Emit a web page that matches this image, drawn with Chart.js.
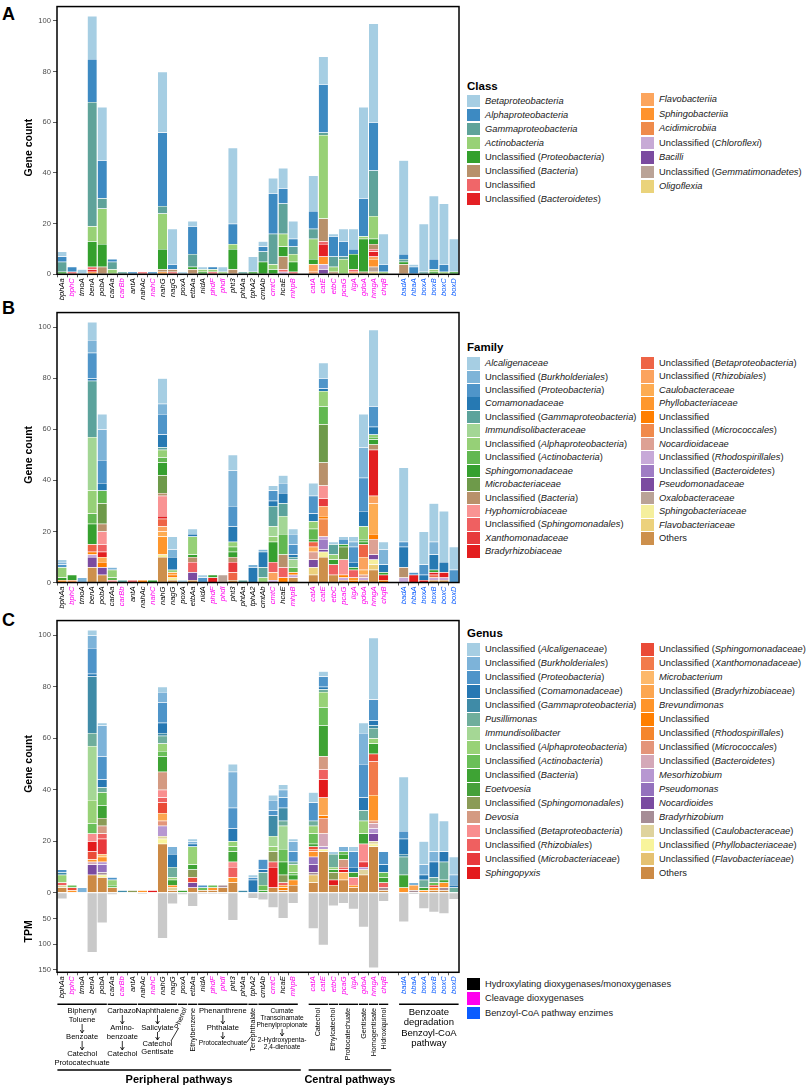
<!DOCTYPE html>
<html>
<head>
<meta charset="utf-8">
<title>Aromatic degradation genes by taxonomy</title>
<script src="https://cdn.jsdelivr.net/npm/chart.js@4.4.1/dist/chart.umd.min.js"></script>
<style>
  html, body { margin: 0; padding: 0; background: #fff; }
  body { width: 806px; height: 1086px; position: relative; overflow: hidden;
         font-family: "Liberation Sans", Arial, Helvetica, sans-serif; color: #1a1a1a; }
  .panel { position: absolute; left: 0; width: 466px; }
  .tag { position: absolute; left: 2px; font-weight: bold; font-size: 18px; line-height: 18px; color: #000; }
  .lg-title { position: absolute; left: 467px; font-weight: bold; font-size: 11.5px; line-height: 12px; color: #000; }
  .lg-item { position: absolute; height: 13px; line-height: 13px; font-size: 9.3px; white-space: nowrap; }
  .lg-item .sw { position: absolute; left: 0; top: 0; width: 12.5px; height: 12.5px; }
  .lg-item .tx { position: absolute; left: 18px; top: 0; }
</style>
</head>
<body>
<div class="tag" style="top:4.5px">A</div>
<div class="tag" style="top:298.5px">B</div>
<div class="tag" style="top:611px">C</div>
<div class="panel" style="top:0;height:306px"><canvas id="chartA"></canvas></div>
<div class="panel" style="top:306px;height:308px"><canvas id="chartB"></canvas></div>
<div class="panel" style="top:614px;height:472px"><canvas id="chartC"></canvas></div>
<div id="legends"></div>

<script>
// ---- data ----
const genes = ['bphAa','bphC','tmoA','benA','pobA','carAa','carBb','antA','nahAc','nahC',
  'nahG','nagG','poxA','etbAa','nidA','phdF','phdI','pht3','phtAa','tphA2',
  'cmtAb','cmtC','hcaE','mhpB','catA','catE','etbC','pcaG','ligA','gdoA',
  'hmgA','chqB','badA','hbaA','boxA','boxB','boxC','boxD'];
// H = hydroxylating, C = cleavage, B = benzoyl-CoA
const geneType = ['H','C','H','H','H','H','C','H','H','C',
  'H','H','H','H','H','C','C','H','H','H',
  'H','C','H','C','C','C','C','C','C','C',
  'C','C','B','B','B','B','B','B'];
const geneTypeNames = ['Hydroxylating dioxygenases/monoxygenases', 'Cleavage dioxygenases', 'Benzoyl-CoA pathway enzimes'];
const geneTypeColors = ['#000000', '#ff00ee', '#0a5cff'];

// TPM per gene (drawn downward in panel C)
const tpm = [11,1,1,115,58,3,1,1,2,1, 88,21,3,26,2,2,2,53,1,10, 13,28,49,20,69,101,25,20,31,66, 145,16,56,2.5,30,37,40,12];

// panel A: class
const classNames = ['Betaproteobacteria','Alphaproteobacteria','Gammaproteobacteria','Actinobacteria',
  'Unclassified (Proteobacteria)','Unclassified (Bacteria)','Unclassified','Unclassified (Bacteroidetes)',
  'Flavobacteriia','Sphingobacteriia','Acidimicrobiia','Unclassified (Chloroflexi)','Bacilli',
  'Unclassified (Gemmatimonadetes)','Oligoflexia'];
const classColors = ['#a6cee3','#3d8ac2','#5fa39a','#98d176','#34a02d','#b8916b','#f06669','#e42024',
  '#fca55d','#fe932d','#ef8b4b','#c7aad6','#7b4ba0','#baa397','#ead37b'];
const clsBeta      = [2,0,2,17,21,0,0,0,0,0, 24,14,1,2,1,0,2,30,0,6, 2,6,8,7,14,11,1,5,8,36, 39,12,37,1,19,25,24,13];
const clsAlpha     = [2,2,0,17,15,1,0,1,0,1, 29,2,0,11,0,1,0,8,0,0, 2,16,6,3,7,19,8,6,2,15, 19,3,2,3,0,4,3,0];
const clsGamma     = [4,0,0,49,4,3,1,0,0,0, 3,0,0,5,0,0,0,0,1,0, 4,12,12,3,4,1,4,1,0,0, 18,0,1,0,1,0,0,0];
const clsActino    = [0,0,0,6,14,2,0,0,0,0, 14,0,0,0,1,1,1,2,0,0, 0,2,5,3,8,33,2,6,0,1, 9,1,0,0,0,1,1,0];
const clsUProteo   = [1,0,0,10,9,0,0,0,0,0, 8,0,0,1,1,0,0,8,0,1, 5,2,4,4,2,0,0,0,6,13, 2,0,1,0,0,1,0,1];
const clsUBacteria = [0,0,0,0,3,0,0,0,0,0, 1,1,0,2,0,0,0,2,0,0, 0,0,5,0,0,9,1,0,0,1, 2,0,4,0,0,0,0,0];
const clsUncl      = [0,1,0,1,0,0,0,0,1,0, 0,1,0,0,0,1,0,0,0,0, 0,0,1,1,0,1,0,0,1,0, 1,0,0,0,0,0,0,0];
const clsUBacteroid= [0,0,0,1,0,0,0,0,0,0, 0,0,0,0,0,0,0,0,0,0, 0,0,0,0,0,5,0,0,0,0, 2,0,0,0,0,0,0,0];
const clsFlavo     = [0,0,0,0,0,0,0,0,0,0, 0,0,0,0,0,0,0,0,0,0, 0,0,0,0,3,0,0,0,1,0, 1,0,0,0,0,0,0,0];
const clsSphingo   = [0,0,0,1,0,0,0,0,0,0, 1,0,0,0,0,0,0,0,0,0, 0,0,0,0,0,3,0,0,0,0, 3,0,0,0,0,0,0,0];
const clsAcidi     = [0,0,0,0,0,0,0,0,0,0, 0,0,0,0,0,0,0,0,0,0, 0,0,0,0,1,0,0,0,0,0, 0,0,0,0,0,0,0,0];
const clsChloro    = [0,0,0,0,0,0,0,0,0,0, 0,0,0,0,0,0,0,0,0,0, 0,0,1,0,0,2,0,0,0,0, 0,0,0,0,0,0,0,0];
const clsBacilli   = [0,0,0,0,0,0,0,0,0,0, 0,0,0,0,0,0,0,0,0,0, 0,0,0,0,0,2,0,0,0,0, 0,0,0,0,0,0,0,0];
const clsGemma     = [0,0,0,0,0,0,0,0,0,0, 0,0,0,0,0,0,0,0,0,0, 0,0,0,0,0,0,0,0,0,0, 2,0,0,0,0,0,0,0];
const clsOligo     = [0,0,0,0,0,0,0,0,0,0, 0,0,0,0,0,0,0,0,0,0, 0,0,0,0,0,0,0,0,0,0, 1,0,0,0,0,0,0,0];

// panel B: family
const familyNames = ['Alcaligenaceae','Unclassified (Burkholderiales)','Unclassified (Proteobacteria)','Comamonadaceae',
  'Unclassified (Gammaproteobacteria)','Immundisolibacteraceae','Unclassified (Alphaproteobacteria)','Unclassified (Actinobacteria)',
  'Sphingomonadaceae','Microbacteriaceae','Unclassified (Bacteria)','Hyphomicrobiaceae','Unclassified (Sphingomonadales)',
  'Xanthomonadaceae','Bradyrhizobiaceae',
  'Unclassified (Betaproteobacteria)','Unclassified (Rhizobiales)','Caulobacteraceae','Phyllobacteriaceae','Unclassified',
  'Unclassified (Micrococcales)','Nocardioidaceae','Unclassified (Rhodospirillales)','Unclassified (Bacteroidetes)',
  'Pseudomonadaceae','Oxalobacteraceae','Sphingobacteriaceae','Flavobacteriaceae','Others'];
const familyColors = ['#a6cee3','#7eb4d8','#4f95c9','#2679b3','#5ca39c','#a3d695','#96d077','#62b851','#36a02f',
  '#6e9a4a','#b8916b','#f99393','#ef6061','#e73a3c','#e31e1f',
  '#ee6446','#fba35e','#fdac52','#fe972d','#ff7f00','#f08a4c','#dda194','#c7a9d8','#9f7cc4','#7b4ba0',
  '#baa397','#f5ef9d','#ecd17c','#cd904c'];
const famAlcaligenaceae = [1,0,0,7,6,0,0,0,0,0, 10,5,1,2,1,0,0,6,0,0, 0,2,3,2,5,6,1,1,2,13, 30,3,29,0,13,15,20,9];
const famUBurkholderiales = [1,0,2,5,12,1,0,0,0,0, 4,3,0,0,0,0,0,14,0,1, 1,0,4,4,0,0,0,0,2,12, 0,6,0,0,0,5,0,0];
const famUProteobacteria = [1,0,0,10,9,0,0,0,0,0, 8,0,0,0,2,0,0,8,0,0, 0,4,0,4,7,4,0,2,6,13, 8,0,2,1,4,0,0,5];
const famComamonadaceae = [0,0,0,1,3,0,0,0,0,0, 5,5,0,1,0,0,0,6,0,6, 6,2,4,1,3,1,0,0,2,6, 3,3,8,0,2,6,4,0];
const famUGammaproteobacteria = [0,0,0,22,0,0,1,0,0,0, 1,0,0,0,0,0,0,0,1,0, 4,8,5,1,0,0,4,0,0,0, 0,0,0,0,0,0,0,0];
const famImmundisolibacteraceae = [0,0,0,21,0,0,0,0,0,0, 0,0,0,0,0,0,0,0,0,0, 0,4,7,3,0,0,0,0,0,0, 0,0,0,0,0,0,0,0];
const famUAlphaproteobacteria = [4,0,0,9,0,3,0,0,0,0, 3,1,0,7,0,0,0,2,0,0, 2,2,0,0,3,6,2,0,0,5, 1,0,0,0,0,0,0,0];
const famUActinobacteria = [0,0,0,4,5,1,0,0,0,0, 2,0,0,0,0,0,0,2,0,0, 0,0,8,2,4,7,0,0,0,1, 1,0,0,0,0,0,0,0];
const famSphingomonadaceae = [1,2,0,8,0,0,0,0,0,1, 5,0,0,1,0,1,0,2,0,0, 0,8,0,0,1,0,2,1,1,1, 2,1,0,0,0,1,0,0];
const famMicrobacteriaceae = [0,0,0,0,8,0,0,0,0,0, 7,0,0,0,0,0,0,0,0,0, 0,0,0,0,0,15,0,5,0,0, 0,0,0,0,0,0,0,0];
const famUBacteria = [0,0,0,0,3,0,0,0,0,0, 1,0,0,2,0,0,0,2,0,0, 0,0,5,0,0,9,0,0,0,0, 2,0,4,0,0,0,0,0];
const famHyphomicrobiaceae = [0,0,0,0,5,1,0,0,0,0, 8,0,0,0,0,0,0,0,0,0, 0,0,0,0,0,5,0,6,0,0, 0,0,0,0,0,0,0,0];
const famUSphingomonadales = [0,0,0,0,3,0,0,1,0,0, 0,0,0,4,0,0,0,0,0,0, 0,4,4,0,0,0,4,0,3,0, 0,0,0,0,0,0,0,0];
const famXanthomonadaceae = [0,0,0,0,0,0,0,0,0,0, 0,0,0,0,0,0,0,4,0,0, 0,0,0,0,0,3,0,0,0,0, 0,0,0,0,0,0,0,0];
const famBradyrhizobiaceae = [0,0,0,0,2,0,0,0,0,0, 1,0,0,0,0,2,0,0,0,0, 0,0,0,0,0,0,0,0,0,0, 18,2,0,3,1,1,2,0];
const famUBetaproteobacteria = [0,0,0,3,0,0,0,0,0,0, 3,0,0,0,0,0,0,3,0,0, 0,0,0,0,2,0,0,0,0,5, 0,0,0,0,0,1,0,0];
const famURhizobiales = [0,1,0,0,0,0,0,0,0,0, 2,0,0,0,0,0,0,0,0,0, 0,3,0,0,0,4,0,0,0,5, 3,0,0,0,0,0,0,0];
const famCaulobacteraceae = [0,0,0,0,2,0,0,0,0,0, 2,0,0,0,0,0,0,0,0,0, 0,0,0,0,2,0,0,0,0,2, 12,0,0,0,0,0,0,0];
const famPhyllobacteriaceae = [1,0,0,0,0,0,0,0,0,0, 7,1,0,0,0,0,0,0,0,0, 0,0,0,0,0,0,0,0,1,0, 0,0,0,0,0,0,0,0];
const famUnclassified = [0,0,0,1,2,0,0,0,1,0, 0,1,0,0,0,0,0,0,0,0, 0,0,2,1,0,1,0,1,1,0, 2,1,0,0,0,0,0,0];
const famUMicrococcales = [0,0,0,0,0,0,0,0,0,0, 0,0,0,0,0,0,0,0,0,0, 0,0,0,0,0,7,0,0,0,0, 0,0,0,0,0,0,0,0];
const famNocardioidaceae = [0,0,0,0,0,0,0,0,0,0, 0,0,0,0,0,0,0,0,0,0, 0,0,0,0,3,0,0,0,0,1, 6,0,0,0,0,0,0,0];
const famURhodospirillales = [0,0,0,1,0,0,0,0,0,0, 0,0,0,0,0,0,0,0,0,0, 0,1,0,1,0,1,0,1,0,1, 0,0,2,0,0,1,1,0];
const famUBacteroidetes = [0,0,0,0,0,0,0,0,0,0, 0,0,0,0,0,0,0,0,0,0, 0,0,0,0,0,4,0,0,0,0, 0,0,0,0,0,0,0,0];
const famPseudomonadaceae = [0,0,0,4,3,0,0,0,0,0, 0,0,0,3,0,0,0,0,0,0, 0,0,0,0,3,1,0,0,0,0, 2,0,0,0,0,0,0,0];
const famOxalobacteraceae = [0,0,0,0,0,0,0,0,0,0, 0,0,0,0,0,0,3,0,0,0, 0,0,0,0,0,0,0,0,0,0, 0,0,0,0,0,0,0,0];
const famSphingobacteriaceae = [0,0,0,0,0,0,0,0,0,0, 1,1,0,0,0,0,0,0,0,0, 0,0,0,0,0,2,0,0,0,0, 2,0,0,0,0,0,0,0];
const famFlavobacteriaceae = [0,0,0,0,0,0,0,0,0,0, 0,0,0,0,0,0,0,0,0,0, 0,0,0,0,3,0,0,0,0,0, 2,0,0,0,0,0,0,0];
const famOthers = [0,0,0,6,3,0,0,0,0,0, 10,1,0,1,0,0,0,1,0,0, 0,0,0,2,3,10,3,1,0,1, 5,0,0,0,0,1,1,0];

// panel C: genus
const genusNames = ['Unclassified (Alcaligenaceae)','Unclassified (Burkholderiales)','Unclassified (Proteobacteria)',
  'Unclassified (Comamonadaceae)','Unclassified (Gammaproteobacteria)','Pusillimonas','Immundisolibacter',
  'Unclassified (Alphaproteobacteria)','Unclassified (Actinobacteria)','Unclassified (Bacteria)','Eoetvoesia',
  'Unclassified (Sphingomonadales)','Devosia','Unclassified (Betaproteobacteria)','Unclassified (Rhizobiales)',
  'Unclassified (Microbacteriaceae)','Sphingopyxis',
  'Unclassified (Sphingomonadaceae)','Unclassified (Xanthomonadaceae)','Microbacterium','Unclassified (Bradyrhizobiaceae)',
  'Brevundimonas','Unclassified','Unclassified (Rhodospirillales)','Unclassified (Micrococcales)','Unclassified (Bacteroidetes)',
  'Mesorhizobium','Pseudomonas','Nocardioides','Bradyrhizobium','Unclassified (Caulobacteraceae)',
  'Unclassified (Phyllobacteriaceae)','Unclassified (Flavobacteriaceae)','Others'];
const genusColors = ['#a6cee3','#7db3d9','#4e94c9','#2778b3','#3f8ba7','#6fae9c','#a5d795','#98d277','#6abf58',
  '#3ea334','#46a03a','#8b9b57','#d49a82','#f98e8f','#ef6060','#e8393c','#e31a1c',
  '#ea4b37','#f27b4b','#fdb86a','#fca650','#fe9429','#ff7f00','#f5862c','#e4957a','#d4a8b8','#b797d1',
  '#9471bd','#7a4ba0','#a68d96','#dfd39d','#f8f49c','#e5c171','#cc8a45'];
const genUAlcaligenaceae = [0,0,0,2,1,0,0,0,0,0, 2,0,0,1,0,0,0,3,0,1, 0,2,2,1,4,2,1,0,2,4, 24,0,21,0,9,15,12,7];
const genUBurkholderiales = [0,0,2,5,12,0,0,0,0,0, 4,3,0,1,0,0,0,14,0,0, 0,4,3,4,0,0,0,2,0,12, 0,0,0,1,4,4,0,4];
const genUProteobacteria = [1,0,0,10,9,1,0,0,0,0, 8,0,0,0,1,0,0,8,0,1, 4,2,4,4,7,4,0,0,6,13, 8,5,3,0,0,0,0,0];
const genUComamonadaceae = [0,0,0,1,3,0,0,0,0,0, 4,5,0,1,0,0,0,5,0,5, 1,0,0,0,0,1,0,0,2,5, 2,3,6,0,2,6,4,1];
const genUGammaproteobacteria = [1,0,0,22,0,0,1,0,0,0, 1,0,0,0,0,0,0,0,1,0, 0,8,5,0,0,0,0,0,0,0, 1,0,1,0,0,0,0,0];
const genPusillimonas = [0,0,0,5,2,0,0,0,0,0, 3,4,0,0,0,0,0,0,0,0, 5,0,2,1,2,1,5,0,0,4, 4,0,7,0,3,2,7,2];
const genImmundisolibacter = [0,0,0,21,0,0,0,0,0,0, 0,0,0,0,0,0,0,0,0,0, 0,4,9,0,0,0,0,0,0,0, 0,0,0,0,0,0,0,0];
const genUAlphaproteobacteria = [3,0,0,9,0,2,0,0,0,0, 3,1,0,7,0,0,0,2,0,0, 0,2,0,3,3,6,1,0,0,5, 2,0,0,0,0,0,0,0];
const genUActinobacteria = [0,1,0,4,5,1,0,0,0,0, 2,0,0,0,1,1,0,2,0,0, 2,0,5,1,4,7,0,1,0,0, 0,2,0,0,0,1,0,0];
const genUBacteria = [0,0,0,0,5,0,0,0,0,0, 6,2,1,2,0,0,0,4,0,0, 1,0,5,2,1,12,1,2,2,4, 4,2,5,0,1,0,1,0];
const genEoetvoesia = [0,0,0,0,0,0,0,0,0,0, 0,0,0,0,0,0,0,0,0,0, 0,0,0,0,0,0,0,0,0,0, 0,0,0,0,0,0,0,0];
const genUSphingomonadales = [0,0,0,0,3,0,0,1,0,0, 0,0,0,3,0,0,0,0,0,0, 0,4,3,0,0,0,3,0,0,0, 0,0,0,0,0,0,0,0];
const genDevosia = [0,0,0,0,3,0,0,0,0,0, 7,0,0,0,0,0,0,0,0,0, 0,0,0,0,0,5,0,3,0,0, 0,0,0,0,0,0,0,0];
const genUBetaproteobacteria = [0,0,0,3,0,0,0,0,0,0, 3,0,0,0,0,0,0,2,0,0, 0,0,0,0,0,0,0,0,3,7, 0,0,0,0,0,0,0,0];
const genURhizobiales = [1,0,0,0,2,0,0,0,0,0, 2,0,0,0,0,0,0,4,0,0, 0,2,1,0,0,4,0,1,0,0, 0,2,0,0,0,0,0,0];
const genUMicrobacteriaceae = [0,0,0,0,6,0,0,0,0,0, 0,0,0,0,0,0,0,0,0,0, 0,0,0,0,0,0,0,0,0,2, 0,0,0,0,0,0,0,0];
const genSphingopyxis = [0,0,0,4,0,0,0,0,0,1, 0,0,0,0,0,0,0,0,0,0, 0,8,0,0,0,7,2,1,0,0, 0,0,0,0,0,0,0,0];
const genUSphingomonadaceae = [0,1,0,3,0,0,0,0,0,0, 4,0,0,2,0,0,0,0,0,0, 0,0,0,0,1,0,0,0,0,0, 3,0,0,0,0,1,0,0];
const genUXanthomonadaceae = [0,0,0,0,0,0,0,0,0,0, 0,0,0,0,0,0,0,0,0,0, 0,0,0,0,1,0,0,0,0,0, 13,0,0,0,0,0,0,0];
const genMicrobacterium = [0,0,0,0,1,0,0,0,0,0, 0,0,0,0,0,0,0,0,0,0, 0,0,0,0,0,0,0,3,0,0, 0,0,0,0,0,0,0,0];
const genUBradyrhizobiaceae = [0,0,0,0,0,0,0,0,0,0, 3,0,0,0,0,0,0,0,0,0, 0,0,0,0,0,7,0,0,0,0, 0,0,0,2,0,0,0,0];
const genBrevundimonas = [0,1,0,1,2,0,0,0,1,0, 0,1,0,0,0,1,0,2,0,0, 0,0,1,2,2,0,0,0,1,0, 10,0,2,0,1,1,2,0];
const genUnclassified = [0,0,0,0,0,0,0,0,0,0, 0,0,0,0,0,0,0,0,0,0, 0,0,1,0,0,1,0,0,0,0, 0,0,0,0,0,0,0,0];
const genURhodospirillales = [0,0,0,0,0,0,0,0,0,0, 0,0,0,0,0,0,0,0,0,0, 0,0,0,0,0,0,0,0,0,0, 0,0,0,0,0,0,0,0];
const genUMicrococcales = [0,0,0,0,0,0,0,0,0,0, 2,0,0,0,0,0,0,0,0,0, 0,0,0,0,0,6,0,0,0,0, 1,0,0,0,0,0,0,0];
const genUBacteroidetes = [0,0,0,1,0,0,0,0,0,0, 0,0,0,0,0,0,0,0,0,0, 0,0,0,0,0,5,0,0,0,0, 2,0,0,0,0,0,0,0];
const genMesorhizobium = [0,0,0,0,1,0,0,0,0,0, 4,0,0,0,0,0,0,0,0,0, 0,0,0,0,0,1,0,0,0,1, 2,0,0,0,0,0,0,0];
const genPseudomonas = [0,0,0,0,3,0,0,0,0,0, 0,0,0,0,0,0,0,0,0,0, 0,0,0,0,3,0,0,0,0,0, 0,0,0,0,0,0,0,0];
const genNocardioides = [0,0,0,4,0,0,0,0,0,0, 0,0,0,2,0,0,0,0,0,0, 0,0,0,0,3,0,0,0,0,0, 3,0,0,0,0,0,0,0];
const genBradyrhizobium = [0,0,0,0,1,0,0,0,0,0, 0,0,0,0,0,0,1,0,0,0, 0,0,0,0,1,0,0,0,0,0, 0,1,0,1,0,0,1,0];
const genUCaulobacteraceae = [1,0,0,0,0,0,0,0,0,0, 1,1,0,0,0,0,0,0,0,0, 0,0,0,0,0,0,0,0,0,2, 1,0,0,0,0,0,0,0];
const genUPhyllobacteriaceae = [0,0,0,0,1,0,0,0,0,0, 2,0,0,0,0,0,0,0,0,0, 0,0,0,0,0,1,0,0,0,0, 1,0,0,0,0,0,0,0];
const genUFlavobacteriaceae = [0,0,0,0,0,0,0,0,0,0, 0,0,0,0,0,0,0,0,0,0, 0,0,0,0,3,0,0,0,0,0, 0,0,0,0,0,0,0,0];
const genOthers = [2,0,0,7,6,2,0,0,0,0, 19,1,0,2,1,1,2,4,0,0, 0,2,1,3,4,16,3,5,2,7, 18,1,0,0,0,1,1,0];

const classSeries = [clsBeta, clsAlpha, clsGamma, clsActino, clsUProteo, clsUBacteria, clsUncl, clsUBacteroid,
  clsFlavo, clsSphingo, clsAcidi, clsChloro, clsBacilli, clsGemma, clsOligo];
const familySeries = [famAlcaligenaceae, famUBurkholderiales, famUProteobacteria, famComamonadaceae,
  famUGammaproteobacteria, famImmundisolibacteraceae, famUAlphaproteobacteria, famUActinobacteria,
  famSphingomonadaceae, famMicrobacteriaceae, famUBacteria, famHyphomicrobiaceae, famUSphingomonadales,
  famXanthomonadaceae, famBradyrhizobiaceae, famUBetaproteobacteria, famURhizobiales, famCaulobacteraceae,
  famPhyllobacteriaceae, famUnclassified, famUMicrococcales, famNocardioidaceae, famURhodospirillales,
  famUBacteroidetes, famPseudomonadaceae, famOxalobacteraceae, famSphingobacteriaceae, famFlavobacteriaceae, famOthers];
const genusSeries = [genUAlcaligenaceae, genUBurkholderiales, genUProteobacteria, genUComamonadaceae,
  genUGammaproteobacteria, genPusillimonas, genImmundisolibacter, genUAlphaproteobacteria, genUActinobacteria,
  genUBacteria, genEoetvoesia, genUSphingomonadales, genDevosia, genUBetaproteobacteria, genURhizobiales,
  genUMicrobacteriaceae, genSphingopyxis, genUSphingomonadaceae, genUXanthomonadaceae, genMicrobacterium,
  genUBradyrhizobiaceae, genBrevundimonas, genUnclassified, genURhodospirillales, genUMicrococcales,
  genUBacteroidetes, genMesorhizobium, genPseudomonas, genNocardioides, genBradyrhizobium,
  genUCaulobacteraceae, genUPhyllobacteriaceae, genUFlavobacteriaceae, genOthers];

// ---- helpers ----
const FONT = '"Liberation Sans", Arial, Helvetica, sans-serif';
const GAP_AFTER = ['mhpB', 'chqB'];   // empty slot between peripheral / central / benzoate groups
const TPM_PER_UNIT = 5;               // 50 TPM drawn as 10 gene-count units
const Y_MAX = 105.7;
const C_TOP = 614;                    // page offset of panel C canvas

function withGaps(arr) {
  const out = [];
  arr.forEach((v, i) => { out.push(v); if (GAP_AFTER.includes(genes[i])) out.push(null); });
  return out;
}
function slotOf(gene) {
  const i = genes.indexOf(gene);
  return i + GAP_AFTER.filter(g => genes.indexOf(g) < i).length;
}
const labels = withGaps(genes).map(g => g || '');
const typeOf = {};
genes.forEach((g, i) => { typeOf[g] = geneType[i]; });
const typeColor = { H: geneTypeColors[0], C: geneTypeColors[1], B: geneTypeColors[2] };

// frame + rotated axis titles
const framePlugin = {
  id: 'frame',
  afterDraw(chart, args, opts) {
    const { ctx, chartArea: a, scales: { y } } = chart;
    ctx.save();
    ctx.strokeStyle = '#000';
    ctx.lineWidth = 1.5;
    ctx.strokeRect(a.left, a.top, a.right - a.left, a.bottom - a.top);
    ctx.fillStyle = '#000';
    ctx.font = 'bold 10.5px ' + FONT;
    ctx.textAlign = 'center';
    ctx.textBaseline = 'middle';
    (opts.titles || []).forEach(([text, v]) => {
      ctx.save();
      ctx.translate(29.5, y.getPixelForValue(v));
      ctx.rotate(-Math.PI / 2);
      ctx.fillText(text, 0, 0);
      ctx.restore();
    });
    ctx.restore();
  }
};

// pathway annotation under panel C
const pathwayGroups = [
  { from: 'bphAa', to: 'pobA', rows: [['Biphenyl', 1011], ['Toluene', 1020], [null, 1024, 1033], ['Benzoate', 1037], [null, 1041, 1050], ['Catechol', 1054], ['Protocatechuate', 1063]] },
  { from: 'carAa', to: 'antA', rows: [['Carbazol', 1011], [null, 1015, 1024], ['Amino-', 1028], ['benzoate', 1037], [null, 1041, 1050], ['Catechol', 1054]] },
  { from: 'nahAc', to: 'nagG', rows: [['Naphthalene', 1011], [null, 1015, 1024], ['Salicylate', 1028], [null, 1032, 1040], ['Catechol', 1044], ['Gentisate', 1052]] },
  { from: 'poxA', to: 'poxA', tilt: 'Phenol' },
  { from: 'etbAa', to: 'etbAa', vert: 'Ethylbenzene' },
  { from: 'nidA', to: 'phtAa', rows: [['Phenanthrene', 1011], [null, 1015, 1024], ['Phthalate', 1028], [null, 1032, 1039], ['Protocatechuate', 1043, 6.6]] },
  { from: 'tphA2', to: 'tphA2', vert: 'Terephthalate' },
  { from: 'cmtAb', to: 'mhpB', size: 6.6, dx: 4, rows: [['Cumate', 1011], ['Transcinamate', 1018], ['Phenylpropionate', 1025], [null, 1029, 1036], ['2-Hydroxypenta-', 1040], ['2,4-dienoate', 1047]] },
  { from: 'catA', to: 'catE', vert: 'Catechol' },
  { from: 'etbC', to: 'etbC', vert: 'Ethylcatechol' },
  { from: 'pcaG', to: 'ligA', vert: 'Protocatechuate' },
  { from: 'gdoA', to: 'gdoA', vert: 'Gentisate' },
  { from: 'hmgA', to: 'hmgA', vert: 'Homogentisate' },
  { from: 'chqB', to: 'chqB', vert: 'Hidroxiquinol' },
  { from: 'badA', to: 'boxD', size: 9.5, rows: [['Benzoate', 1012], ['degradation', 1022], ['Benzoyl-CoA', 1033], ['pathway', 1043]] }
];
const pathwayClasses = [
  { from: 'bphAa', to: 'mhpB', text: 'Peripheral pathways' },
  { from: 'catA', to: 'chqB', text: 'Central pathways' }
];

function arrowDown(ctx, x, y1, y2) {
  ctx.beginPath();
  ctx.moveTo(x, y1); ctx.lineTo(x, y2);
  ctx.stroke();
  ctx.beginPath();
  ctx.moveTo(x - 1.9, y2 - 3); ctx.lineTo(x, y2); ctx.lineTo(x + 1.9, y2 - 3);
  ctx.stroke();
}

const pathwayPlugin = {
  id: 'pathways',
  afterDraw(chart) {
    const { ctx, scales: { x } } = chart;
    const half = (x.getPixelForValue(1) - x.getPixelForValue(0)) * 0.46;
    const px = g => x.getPixelForValue(slotOf(g));
    const Y = v => v - C_TOP;
    ctx.save();
    ctx.fillStyle = '#000';
    ctx.strokeStyle = '#000';
    ctx.textAlign = 'center';
    ctx.textBaseline = 'middle';
    pathwayGroups.forEach(grp => {
      const x0 = px(grp.from) - half, x1 = px(grp.to) + half;
      const mid = (x0 + x1) / 2 + (grp.dx || 0);
      ctx.lineWidth = 1.4;
      ctx.beginPath(); ctx.moveTo(x0, Y(1004.3)); ctx.lineTo(x1, Y(1004.3)); ctx.stroke();
      ctx.lineWidth = 0.8;
      if (grp.rows) {
        grp.rows.forEach(r => {
          if (r[0] === null) { arrowDown(ctx, mid, Y(r[1]), Y(r[2])); return; }
          ctx.font = (r[2] || grp.size || 7.6) + 'px ' + FONT;
          ctx.fillText(r[0], mid, Y(r[1]));
        });
      }
      if (grp.vert) {
        ctx.save();
        ctx.font = '7.2px ' + FONT;
        ctx.translate((x0 + x1) / 2, Y(1008));
        ctx.rotate(-Math.PI / 2);
        ctx.textAlign = 'right';
        ctx.fillText(grp.vert, 0, 0);
        ctx.restore();
      }
      if (grp.tilt) {
        ctx.save();
        ctx.font = '7.2px ' + FONT;
        ctx.translate((x0 + x1) / 2 + 2.5, Y(1008));
        ctx.rotate(-68 * Math.PI / 180);
        ctx.textAlign = 'right';
        ctx.fillText(grp.tilt, 0, 0);
        ctx.restore();
        ctx.beginPath(); ctx.moveTo(178, Y(1029)); ctx.lineTo(171, Y(1041)); ctx.stroke();
      }
    });
    // connector from phthalate branch to terephthalate
    ctx.lineWidth = 0.8;
    ctx.beginPath(); ctx.moveTo(246.5, Y(1042.5)); ctx.lineTo(251, Y(1036.5)); ctx.stroke();
    pathwayClasses.forEach(pc => {
      const x0 = px(pc.from) - half, x1 = px(pc.to) + half + 3;
      ctx.lineWidth = 1.4;
      ctx.beginPath(); ctx.moveTo(x0, Y(1070)); ctx.lineTo(x1, Y(1070)); ctx.stroke();
      ctx.font = 'bold 11px ' + FONT;
      ctx.fillText(pc.text, (x0 + x1) / 2, Y(1079.5));
    });
    ctx.restore();
  }
};

function panelChart(id, cfg) {
  const datasets = cfg.series.map((data, k) => ({
    label: cfg.names[k],
    data: withGaps(data).map(v => (v ? v : null)),
    backgroundColor: cfg.colors[k],
    borderColor: 'rgba(255,255,255,0.55)',
    borderWidth: { top: 0.5, bottom: 0, left: 0, right: 0 },
    borderSkipped: false,
    stack: 'genes'
  })).reverse();   // first legend entry sits on top of the stack
  if (cfg.tpm) {
    datasets.push({
      label: 'TPM',
      data: withGaps(cfg.tpm).map(v => (v == null ? null : -v / TPM_PER_UNIT)),
      backgroundColor: '#c9c9c9',
      borderWidth: 0,
      stack: 'genes'
    });
  }
  return new Chart(document.getElementById(id), {
    type: 'bar',
    data: { labels, datasets },
    plugins: cfg.extraPlugins ? [framePlugin].concat(cfg.extraPlugins) : [framePlugin],
    options: {
      responsive: true,
      maintainAspectRatio: false,
      animation: false,
      barPercentage: 0.92,
      categoryPercentage: 1,
      layout: { padding: { top: cfg.padTop, right: 7, left: 0, bottom: 0 } },
      plugins: {
        legend: { display: false },
        tooltip: { enabled: false },
        frame: { titles: cfg.titles }
      },
      scales: {
        x: {
          type: 'category',
          stacked: true,
          offset: true,
          border: { display: false },
          grid: {
            drawOnChartArea: false, drawTicks: true, tickLength: 3, tickWidth: 0.8,
            tickColor: c => (c.tick && c.tick.label ? '#333' : 'rgba(0,0,0,0)')
          },
          ticks: {
            autoSkip: false, minRotation: 90, maxRotation: 90, padding: 1,
            font: { family: FONT, size: 7.6, style: 'italic' },
            color: c => (c.tick && typeOf[c.tick.label] ? typeColor[typeOf[c.tick.label]] : '#000')
          },
          afterFit: s => { s.height = cfg.xHeight; }
        },
        y: {
          stacked: true,
          min: cfg.yMin,
          max: Y_MAX,
          border: { display: false },
          grid: { drawOnChartArea: false, drawTicks: true, tickLength: 4, tickWidth: 0.8, tickColor: '#333' },
          afterBuildTicks: s => { s.ticks = cfg.yTicks.map(v => ({ value: v })); },
          ticks: {
            padding: 2,
            font: { family: FONT, size: 7.6 },
            color: '#4d4d4d',
            callback: v => (v < 0 ? -v * TPM_PER_UNIT : v)
          },
          afterFit: s => { s.width = 57; }
        }
      }
    }
  });
}

panelChart('chartA', {
  names: classNames, colors: classColors, series: classSeries,
  padTop: 2.7, xHeight: 31.7, yMin: 0, yTicks: [0, 20, 40, 60, 80, 100],
  titles: [['Gene count', 50]]
});
panelChart('chartB', {
  names: familyNames, colors: familyColors, series: familySeries,
  padTop: 3.3, xHeight: 31.5, yMin: 0, yTicks: [0, 20, 40, 60, 80, 100],
  titles: [['Gene count', 50]]
});
panelChart('chartC', {
  names: genusNames, colors: genusColors, series: genusSeries, tpm: tpm,
  padTop: 1.7, xHeight: 113.7, yMin: -30.9, yTicks: [-30, -20, -10, 0, 20, 40, 60, 80, 100],
  titles: [['Gene count', 50], ['TPM', -15]],
  extraPlugins: [pathwayPlugin]
});

// ---- HTML legends ----
function fmtName(n) {
  if (n === 'Others' || n === 'Unclassified') return n;
  const m = n.match(/^Unclassified \((.+)\)$/);
  if (m) return 'Unclassified (<i>' + m[1] + '</i>)';
  return '<i>' + n + '</i>';
}
const host = document.getElementById('legends');
function addItem(left, centerY, color, html) {
  const d = document.createElement('div');
  d.className = 'lg-item';
  d.style.left = left + 'px';
  d.style.top = (centerY - 6.5) + 'px';
  d.innerHTML = '<span class="sw" style="background:' + color + '"></span><span class="tx">' + html + '</span>';
  host.appendChild(d);
}
function addLegend(title, titleY, names, colors, split, c1, c2) {
  const t = document.createElement('div');
  t.className = 'lg-title';
  t.style.top = (titleY - 6) + 'px';
  t.textContent = title;
  host.appendChild(t);
  names.forEach((n, i) => {
    if (i < split) addItem(467, c1[0] + i * c1[1], colors[i], fmtName(n));
    else addItem(641, c2[0] + (i - split) * c2[1], colors[i], fmtName(n));
  });
}
addLegend('Class', 86, classNames, classColors, 8, [101, 14.05], [99.5, 14.5]);
addLegend('Family', 347, familyNames, familyColors, 15, [363.7, 13.43], [363, 13.5]);
addLegend('Genus', 633, genusNames, genusColors, 17, [649.7, 13.98], [649.7, 13.98]);
geneTypeNames.forEach((n, i) => addItem(467, 984 + i * 14.5, geneTypeColors[i], n));
</script>
</body>
</html>
